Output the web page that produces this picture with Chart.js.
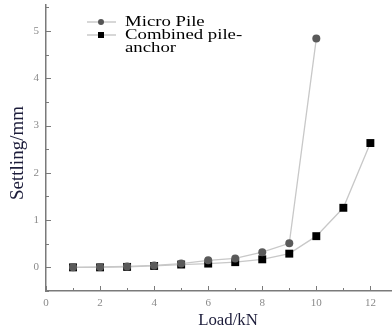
<!DOCTYPE html>
<html>
<head>
<meta charset="utf-8">
<script src="https://cdn.jsdelivr.net/npm/chart.js@4/dist/chart.umd.min.js"></script>
<style>
  html, body { margin: 0; padding: 0; background: #fff; overflow: hidden; }
  #wrap { width: 392px; height: 331px; }
  canvas { display: block; }
</style>
</head>
<body>
<div id="wrap"><canvas id="settleChart"></canvas></div>
<script>
// load steps (kN) and measured settlement (mm)
const loads = [1, 2, 3, 4, 5, 6, 7, 8, 9, 10, 11, 12];
const microPile = [0, 0.01, 0.02, 0.04, 0.08, 0.15, 0.19, 0.32, 0.51, 4.84];
const combinedPile = [0, 0, 0.01, 0.03, 0.06, 0.08, 0.11, 0.17, 0.29, 0.66, 1.26, 2.63];
const xTicks = [0, 2, 4, 6, 8, 10, 12];
const yTicks = [0, 1, 2, 3, 4, 5];

const toPoints = (vals) => vals.map((v, i) => ({ x: loads[i], y: v }));

const serif = '"Liberation Serif", "DejaVu Serif", serif';
const axisColor = '#7a7a7a';

// text drawn a little wider than the font's natural width
function wideText(ctx, text, x, y, sx) {
    ctx.save();
    ctx.translate(x, y);
    ctx.scale(sx, 1);
    ctx.fillText(text, 0, 0);
    ctx.restore();
}

// inward major/minor ticks, axis titles and the legend
const decorations = {
    id: 'decorations',
    afterDraw(chart) {
        const { ctx, chartArea: a, scales: { x, y } } = chart;
        ctx.save();
        ctx.strokeStyle = axisColor;
        ctx.lineWidth = 1;
        ctx.beginPath();
        for (let v = 0; v <= 12; v++) {
            const px = Math.round(x.getPixelForValue(v)) + 0.5;
            const len = v % 2 === 0 ? 5 : 3;
            ctx.moveTo(px, a.bottom);
            ctx.lineTo(px, a.bottom - len);
        }
        for (let v = -0.5; v <= 5.5; v += 0.5) {
            const py = Math.round(y.getPixelForValue(v)) + 0.5;
            const len = Number.isInteger(v) ? 5 : 3;
            ctx.moveTo(a.left, py);
            ctx.lineTo(a.left + len, py);
        }
        ctx.stroke();

        // axis titles
        ctx.fillStyle = '#1c1c3a';
        ctx.textAlign = 'center';
        ctx.textBaseline = 'middle';
        ctx.font = '16px ' + serif;
        wideText(ctx, 'Load/kN', 228, 321, 1.05);
        ctx.save();
        ctx.translate(18, 153);
        ctx.rotate(-Math.PI / 2);
        ctx.font = '19px ' + serif;
        ctx.fillText('Settling/mm', 0, 0);
        ctx.restore();

        // legend
        const rows = [
            { label: ['Micro Pile'], y: 22, style: 'circle', color: '#555' },
            { label: ['Combined pile-', 'anchor'], y: 35, style: 'rect', color: '#000' }
        ];
        ctx.textAlign = 'left';
        ctx.font = '15px ' + serif;
        rows.forEach(r => {
            ctx.strokeStyle = '#bdbdbd';
            ctx.lineWidth = 1.2;
            ctx.beginPath();
            ctx.moveTo(87, r.y);
            ctx.lineTo(116, r.y);
            ctx.stroke();
            ctx.fillStyle = r.color;
            if (r.style === 'circle') {
                ctx.beginPath();
                ctx.arc(101, r.y, 3, 0, Math.PI * 2);
                ctx.fill();
            } else {
                ctx.fillRect(98, r.y - 3, 6, 6);
            }
            ctx.fillStyle = '#000';
            r.label.forEach((t, i) => wideText(ctx, t, 125, r.y + i * 13, 1.25));
        });
        ctx.restore();
    }
};

new Chart(document.getElementById('settleChart'), {
    type: 'scatter',
    data: {
        datasets: [{
            label: 'Micro Pile',
            data: toPoints(microPile),
            showLine: true,
            borderColor: '#c8c8c8',
            borderWidth: 1.3,
            pointStyle: 'circle',
            pointRadius: 4,
            pointBackgroundColor: '#5a5a5a',
            pointBorderColor: '#5a5a5a',
            pointBorderWidth: 0
        }, {
            label: 'Combined pile-anchor',
            data: toPoints(combinedPile),
            showLine: true,
            borderColor: '#c8c8c8',
            borderWidth: 1.3,
            pointStyle: 'rect',
            pointRadius: 5.6,
            pointBackgroundColor: '#000',
            pointBorderColor: '#000',
            pointBorderWidth: 0
        }]
    },
    options: {
        responsive: true,
        maintainAspectRatio: false,
        animation: false,
        layout: {
            autoPadding: false,
            padding: { top: 5, right: 0, left: 0, bottom: 0 }
        },
        scales: {
            x: {
                type: 'linear',
                min: 0,
                max: 12.8,
                afterBuildTicks: (s) => { s.ticks = xTicks.map(v => ({ value: v })); },
                afterFit: (s) => {
                    s.height = 40;
                    s.paddingLeft = 0;
                    s.paddingRight = 0;
                },
                grid: { display: false, drawTicks: false },
                border: { display: true, color: axisColor, width: 1.5 },
                ticks: {
                    color: '#8a8a8a',
                    font: { family: serif, size: 11 },
                    padding: 6,
                    maxRotation: 0
                }
            },
            y: {
                min: -0.5,
                max: 5.55,
                afterBuildTicks: (s) => { s.ticks = yTicks.map(v => ({ value: v })); },
                afterFit: (s) => {
                    s.width = 46;
                    s.paddingTop = 0;
                    s.paddingBottom = 0;
                },
                grid: { display: false, drawTicks: false },
                border: { display: true, color: axisColor, width: 1.5 },
                ticks: {
                    color: '#8a8a8a',
                    font: { family: serif, size: 11 },
                    padding: 7
                }
            }
        },
        plugins: {
            legend: { display: false },
            tooltip: { enabled: false }
        }
    },
    plugins: [decorations]
});
</script>
</body>
</html>
